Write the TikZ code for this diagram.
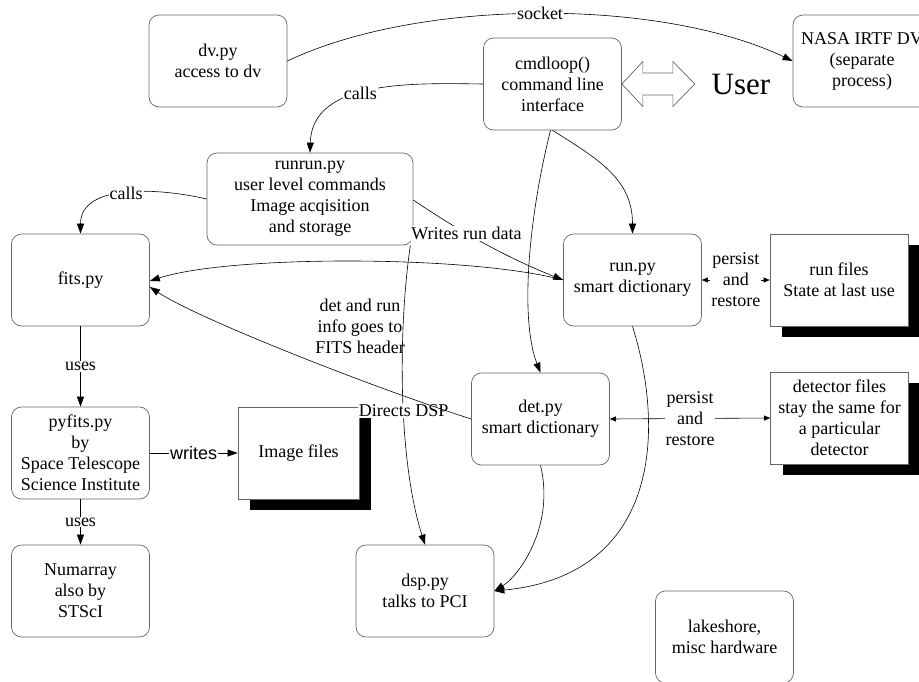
\documentclass[tikz,border=0pt]{standalone}
\usepackage{fontspec}
\setmainfont{Liberation Serif}
\setsansfont{Liberation Sans}
\usetikzlibrary{arrows.meta,shadows,calc}
\tikzset{
  box/.style={draw=black!60, line width=0.7pt, rounded corners=10pt, minimum width=138pt, minimum height=92pt, inner sep=0pt, align=center, font=\fontsize{18}{21}\selectfont, fill=white},
  filebox/.style={draw=black!60, line width=0.7pt, minimum width=138pt, minimum height=92pt, inner sep=0pt, align=center, font=\fontsize{18}{21}\selectfont, fill=white, drop shadow={shadow xshift=12pt, shadow yshift=-11pt, fill=black, opacity=1}},
  conn/.style={line width=0.6pt, black, -{Triangle[length=10pt,width=7pt]}},
  biconn/.style={line width=0.6pt, black, {Triangle[length=6pt,width=5pt]}-{Triangle[length=6pt,width=5pt]}},
  lbl/.style={fill=white, inner sep=1pt, font=\fontsize{18}{21}\selectfont, align=center},
}
\begin{document}
\begin{tikzpicture}[x=1pt,y=-1pt]
\useasboundingbox (0,0) rectangle (919,681);
% boxes
\node[box] (dv) at (218,61) {dv.py\\access to dv};
\node[box] (cmd) at (552.5,84) {cmdloop()\\command line\\interface};
\node[box] (nasa) at (862,61) {NASA IRTF DV\\(separate\\process)};
\node[box, minimum width=206pt] (runrun) at (310,199) {runrun.py\\user level commands\\Image acqisition\\and storage};
\node[box] (fits) at (80.5,280) {fits.py};
\node[box] (run) at (632.5,280) {run.py\\smart dictionary};
\node[filebox] (runfiles) at (839,280) {run files\\State at last use};
\node[box] (pyfits) at (80.5,453) {pyfits.py\\by\\Space Telescope\\Science Institute};
\node[filebox, minimum width=121pt] (imgfiles) at (298.5,453) {Image files};
\node[box] (det) at (540.5,419) {det.py\\smart dictionary};
\node[filebox] (detfiles) at (839.5,418) {detector files\\stay the same for\\a particular\\detector};
\node[box] (numarray) at (80.5,591) {Numarray\\also by\\STScI};
\node[box] (dsp) at (425,591) {dsp.py\\talks to PCI};
\node[box] (lake) at (724.5,637) {lakeshore,\\misc hardware};
\node[font=\fontsize{31}{36}\selectfont, inner sep=0pt] (user) at (741,84) {User};
% user double arrow
\draw[draw=black!60, line width=0.7pt, fill=white] (cmd.east) -- ++(21,-22.5) -- ++(0,11.5) -- ++(30,0) -- ++(0,-11.5) -- ++(22,22.5) -- ++(-22,22.5) -- ++(0,-11.5) -- ++(-30,0) -- ++(0,11.5) -- cycle;
% free label
\node[font=\fontsize{18}{21}\selectfont, align=center, inner sep=0pt] (fitslbl) at (360,326) {det and run\\info goes to\\FITS header};
% connectors
\draw[conn] (dv.east) .. controls (420,-2) and (660,-2) .. (nasa.west) node[lbl, pos=0.5] (socketlbl) {socket};
\draw[conn] (cmd.west) .. controls (411,83) and (312,80) .. (runrun.north) node[lbl, pos=0.55] (calls1) {calls};
\draw[conn] (runrun.west) .. controls (160,188) and (80.5,183) .. (fits.north) node[lbl, pos=0.5] (calls2) {calls};
\draw[conn] (cmd.south) .. controls (600,160) and (632.5,180) .. (run.north);
\draw[conn] ($(cmd.south)+(-2,0)$) .. controls (528,220) and (520,320) .. (det.north);
\draw[conn] ($(runrun.east)+(0,1)$) .. controls (450,225) and (500,255) .. (run.west) node[lbl, pos=0.42] (writeslbl) {Writes run data};
\draw[conn] (run.west) .. controls (470,255) and (230,255) .. ($(fits.east)+(0,1)$);
\draw[conn] ($(runrun.south east)+(-3,0)$) .. controls (398,330) and (398,460) .. (dsp.north) node[lbl, pos=0.55] (dsplbl) {Directs DSP};
\draw[conn] (det.west) .. controls (380,390) and (200,320) .. ($(fits.east)+(0,7)$);
\draw[conn] (det.south) .. controls (555,525) and (520,575) .. (dsp.east);
\draw[conn] (run.south) .. controls (665,430) and (660,575) .. (dsp.east);
\draw[biconn] (run.east) -- (runfiles.west) node[lbl, midway] (persist1) {persist\\and\\restore};
\draw[biconn] (det.east) -- (detfiles.west) node[lbl, midway] (persist2) {persist\\and\\restore};
\draw[conn] (fits.south) -- (pyfits.north) node[lbl, midway] (uses1) {uses};
\draw[conn] (pyfits.south) -- (numarray.north) node[lbl, midway] (uses2) {uses};
\draw[conn] (pyfits.east) -- (imgfiles.west) node[lbl, midway, font=\sffamily\fontsize{18}{21}\selectfont] (writes) {writes};
\end{tikzpicture}
\end{document}
